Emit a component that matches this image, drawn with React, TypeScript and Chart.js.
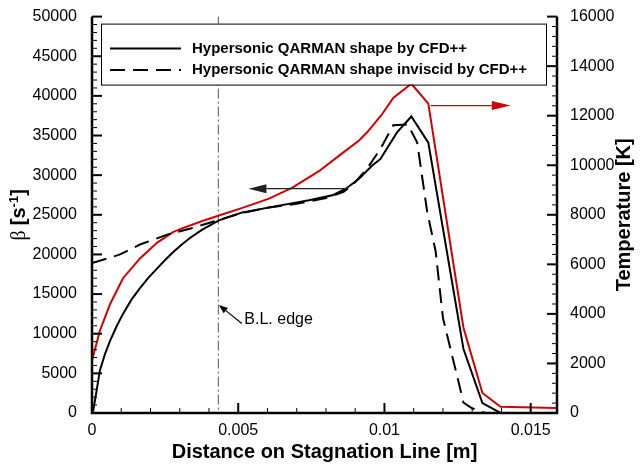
import React, { useEffect, useRef } from 'react';
import { Chart, registerables } from 'chart.js';

Chart.register(...registerables);

// ---- data ----
const xViscous = [0, 0.000046, 0.00016, 0.00027, 0.00045, 0.00062, 0.00085, 0.00106, 0.00135, 0.00164, 0.00194, 0.00223, 0.0025, 0.00277, 0.00306, 0.00336, 0.00377, 0.00434, 0.00514, 0.00616, 0.00742, 0.00822, 0.00868, 0.00913, 0.00959, 0.00986, 0.01043, 0.01092, 0.0115, 0.0127, 0.01335, 0.01397, 0.0159];
const betaViscous = [0, 375, 2875, 5375, 7500, 9125, 11000, 12500, 14300, 15750, 17100, 18250, 19300, 20270, 21230, 22100, 23125, 24300, 25300, 26000, 26830, 27460, 28290, 29540, 31250, 32040, 35400, 37400, 34100, 8100, 1250, 0, 0];

const xInviscid = [0, 0.00096, 0.00164, 0.00257, 0.0034, 0.0043, 0.005, 0.006, 0.007, 0.008, 0.0086, 0.0089, 0.0094, 0.00986, 0.0103, 0.0108, 0.01112, 0.01146, 0.01175, 0.012, 0.01262, 0.0127, 0.013, 0.01345, 0.0159];
const betaInviscid = [18900, 20000, 21250, 22500, 23300, 24300, 25100, 25900, 26400, 27100, 27900, 28700, 30800, 33300, 36300, 36400, 34100, 25400, 20400, 12000, 2600, 1300, 600, 0, 0];

const xTemperature = [0, 0.00027, 0.00062, 0.00106, 0.00164, 0.00223, 0.00277, 0.00301, 0.00377, 0.00434, 0.00514, 0.00605, 0.00685, 0.00776, 0.00845, 0.00913, 0.0094, 0.0099, 0.0103, 0.01092, 0.0115, 0.0127, 0.01335, 0.01397, 0.0159];
const temperature = [2120, 3320, 4400, 5440, 6240, 6880, 7300, 7420, 7750, 7970, 8280, 8650, 9100, 9760, 10390, 11000, 11320, 12030, 12720, 13290, 12490, 3450, 810, 250, 200];

const xTicks = [0, 0.005, 0.01, 0.015];
const betaTicks = [0, 5000, 10000, 15000, 20000, 25000, 30000, 35000, 40000, 45000, 50000];
const tempTicks = [0, 2000, 4000, 6000, 8000, 10000, 12000, 14000, 16000];

const legendLabels = ['Hypersonic QARMAN shape by CFD++', 'Hypersonic QARMAN shape inviscid by CFD++'];
const xTitle = 'Distance on Stagnation Line [m]';
const tempTitle = 'Temperature [K]';
const blLabel = 'B.L. edge';
const blEdgeX = 0.00432;

// annotation anchor points (data coordinates)
const betaArrow = { x1: 0.00872, x2: 0.00535, y: 28300 };
const tempArrow = { x1: 0.01158, x2: 0.01432, t: 12410 };

const X_MAX = 0.0159;
const SANS = "'Liberation Sans', Arial, Helvetica, sans-serif";
const RED = '#d40000';

function arrow(ctx: CanvasRenderingContext2D, x1: number, y1: number, x2: number, y2: number, headLen: number, headHalf: number, color: string, lw: number) {
  const ang = Math.atan2(y2 - y1, x2 - x1);
  const bx = x2 - headLen * Math.cos(ang);
  const by = y2 - headLen * Math.sin(ang);
  ctx.strokeStyle = color;
  ctx.fillStyle = color;
  ctx.lineWidth = lw;
  ctx.setLineDash([]);
  ctx.beginPath();
  ctx.moveTo(x1, y1);
  ctx.lineTo(bx, by);
  ctx.stroke();
  ctx.beginPath();
  ctx.moveTo(x2, y2);
  ctx.lineTo(bx + headHalf * Math.sin(ang), by - headHalf * Math.cos(ang));
  ctx.lineTo(bx - headHalf * Math.sin(ang), by + headHalf * Math.cos(ang));
  ctx.closePath();
  ctx.fill();
}

const overlay = {
  id: 'overlay',
  beforeDatasetsDraw(chart: any) {
    const { ctx, chartArea: a, scales } = chart;
    const px = scales.x.getPixelForValue(blEdgeX);
    ctx.save();
    ctx.strokeStyle = '#555';
    ctx.lineWidth = 1;
    ctx.setLineDash([10, 3, 2, 3]);
    ctx.beginPath();
    ctx.moveTo(px, a.top);
    ctx.lineTo(px, a.bottom);
    ctx.stroke();
    ctx.restore();
  },
  afterDatasetsDraw(chart: any) {
    const { ctx, chartArea: a, scales } = chart;
    const sx = scales.x, sy = scales.y, sy2 = scales.y2;
    ctx.save();
    ctx.setLineDash([]);
    ctx.strokeStyle = '#000';
    // ticks (inward)
    for (let i = 0; i * 0.001 <= X_MAX + 1e-9; i++) {
      const p = sx.getPixelForValue(i * 0.001);
      const major = i % 5 === 0;
      ctx.lineWidth = major ? 2 : 1;
      ctx.beginPath();
      ctx.moveTo(p, a.bottom);
      ctx.lineTo(p, a.bottom - (major ? 10 : 5));
      ctx.stroke();
    }
    for (let i = 0; i <= 50; i++) {
      const p = sy.getPixelForValue(i * 1000);
      const major = i % 5 === 0;
      ctx.lineWidth = major ? 2 : 1;
      ctx.beginPath();
      ctx.moveTo(a.left, p);
      ctx.lineTo(a.left + (major ? 10 : 5), p);
      ctx.stroke();
    }
    for (let i = 0; i <= 40; i++) {
      const p = sy2.getPixelForValue(i * 400);
      const major = i % 5 === 0;
      ctx.lineWidth = major ? 2 : 1;
      ctx.beginPath();
      ctx.moveTo(a.right, p);
      ctx.lineTo(a.right - (major ? 10 : 5), p);
      ctx.stroke();
    }
    // axis lines
    ctx.lineWidth = 2.5;
    ctx.beginPath();
    ctx.moveTo(a.left, a.top);
    ctx.lineTo(a.left, a.bottom);
    ctx.lineTo(a.right, a.bottom);
    ctx.lineTo(a.right, a.top);
    ctx.stroke();

    // arrows
    const by = sy.getPixelForValue(betaArrow.y);
    arrow(ctx, sx.getPixelForValue(betaArrow.x1), by, sx.getPixelForValue(betaArrow.x2), by, 18, 4.5, '#222', 1.2);
    const ty = sy2.getPixelForValue(tempArrow.t);
    arrow(ctx, sx.getPixelForValue(tempArrow.x1), ty, sx.getPixelForValue(tempArrow.x2), ty, 19, 4.5, RED, 1.3);

    // B.L. edge label
    const blx = sx.getPixelForValue(blEdgeX);
    arrow(ctx, blx + 23.5, 323.5, blx + 0.5, 305, 9, 3.5, '#000', 1.2);
    ctx.fillStyle = '#000';
    ctx.font = `16px ${SANS}`;
    ctx.textAlign = 'left';
    ctx.textBaseline = 'middle';
    ctx.fillText(blLabel, blx + 26, 320);

    // legend
    const lx = a.left + 9, ly = a.top + 7, lw = 445, lh = 61;
    ctx.fillStyle = '#fff';
    ctx.fillRect(lx, ly, lw, lh);
    ctx.strokeStyle = '#000';
    ctx.lineWidth = 1;
    ctx.strokeRect(lx + 0.5, ly + 0.5, lw, lh);
    const rows = [ly + 25, ly + 46.5];
    ctx.font = `bold 15px ${SANS}`;
    ctx.textBaseline = 'middle';
    rows.forEach((ry, i) => {
      ctx.strokeStyle = '#000';
      ctx.lineWidth = 2;
      ctx.setLineDash(i === 0 ? [] : [15, 8]);
      ctx.beginPath();
      ctx.moveTo(lx + 9, ry);
      ctx.lineTo(lx + 80, ry);
      ctx.stroke();
      ctx.setLineDash([]);
      ctx.fillStyle = '#000';
      ctx.fillText(legendLabels[i], lx + 91, ry);
    });

    // axis titles
    ctx.fillStyle = '#000';
    ctx.font = `bold 20px ${SANS}`;
    ctx.textAlign = 'center';
    ctx.textBaseline = 'middle';
    ctx.fillText(xTitle, (a.left + a.right) / 2, 452);

    const cy = (a.top + a.bottom) / 2;
    // right title, reading bottom-to-top
    ctx.save();
    ctx.translate(624, cy);
    ctx.rotate(-Math.PI / 2);
    ctx.fillText(tempTitle, 0, 0);
    ctx.restore();

    // left title: β [s^-1]
    ctx.save();
    ctx.translate(18, cy);
    ctx.rotate(-Math.PI / 2);
    const parts = [
      { t: '\u03B2 ', f: `20px 'Liberation Serif', 'DejaVu Serif', serif`, dy: 0 },
      { t: '[s', f: `bold 20px ${SANS}`, dy: 0 },
      { t: '-1', f: `bold 13px ${SANS}`, dy: -7 },
      { t: ']', f: `bold 20px ${SANS}`, dy: 0 },
    ];
    let total = 0;
    parts.forEach((p) => { ctx.font = p.f; total += ctx.measureText(p.t).width; });
    let cx = -total / 2;
    ctx.textAlign = 'left';
    ctx.textBaseline = 'alphabetic';
    parts.forEach((p) => {
      ctx.font = p.f;
      ctx.fillText(p.t, cx, 7 + p.dy);
      cx += ctx.measureText(p.t).width;
    });
    ctx.restore();

    ctx.restore();
  },
};

export default function App() {
  const ref = useRef<HTMLCanvasElement | null>(null);
  useEffect(() => {
    if (!ref.current) return;
    const tickFont = { family: SANS, size: 16 };
    const chart = new Chart(ref.current, {
      type: 'line',
      data: {
        datasets: [
          {
            label: legendLabels[0],
            data: xViscous.map((x, i) => ({ x, y: betaViscous[i] })),
            borderColor: '#000',
            borderWidth: 2,
            pointRadius: 0,
            tension: 0,
            yAxisID: 'y',
          },
          {
            label: legendLabels[1],
            data: xInviscid.map((x, i) => ({ x, y: betaInviscid[i] })),
            borderColor: '#000',
            borderWidth: 2,
            borderDash: [15, 8],
            pointRadius: 0,
            tension: 0,
            yAxisID: 'y',
          },
          {
            label: 'Temperature',
            data: xTemperature.map((x, i) => ({ x, y: temperature[i] })),
            borderColor: RED,
            borderWidth: 2,
            pointRadius: 0,
            tension: 0,
            yAxisID: 'y2',
          },
        ],
      },
      options: {
        animation: false,
        responsive: false,
        devicePixelRatio: 1,
        events: [],
        layout: { padding: { top: 13, left: 0, right: 0, bottom: 0 } },
        plugins: { legend: { display: false }, tooltip: { enabled: false } },
        scales: {
          x: {
            type: 'linear',
            min: 0,
            max: X_MAX,
            grid: { display: false },
            border: { display: false },
            afterBuildTicks: (s: any) => { s.ticks = xTicks.map((v) => ({ value: v })); },
            afterFit: (s: any) => { s.height = 51; },
            ticks: { color: '#000', font: tickFont, padding: 0, maxRotation: 0, callback: (v: any) => String(v) },
          },
          y: {
            type: 'linear',
            position: 'left',
            min: 0,
            max: 50000,
            grid: { display: false },
            border: { display: false },
            afterBuildTicks: (s: any) => { s.ticks = betaTicks.map((v) => ({ value: v })); },
            afterFit: (s: any) => { s.width = 92; },
            ticks: { color: '#000', font: tickFont, padding: 7, callback: (v: any) => String(v) },
          },
          y2: {
            type: 'linear',
            position: 'right',
            min: 0,
            max: 16000,
            grid: { display: false },
            border: { display: false },
            afterBuildTicks: (s: any) => { s.ticks = tempTicks.map((v) => ({ value: v })); },
            afterFit: (s: any) => { s.width = 83; },
            ticks: { color: '#000', font: tickFont, padding: 5, callback: (v: any) => String(v) },
          },
        },
      },
      plugins: [overlay],
    } as any);
    return () => chart.destroy();
  }, []);
  return (
    <div style={{ position: 'fixed', left: 0, top: 0, width: 640, height: 464, background: '#fff' }}>
      <canvas ref={ref} width={640} height={464} />
    </div>
  );
}
